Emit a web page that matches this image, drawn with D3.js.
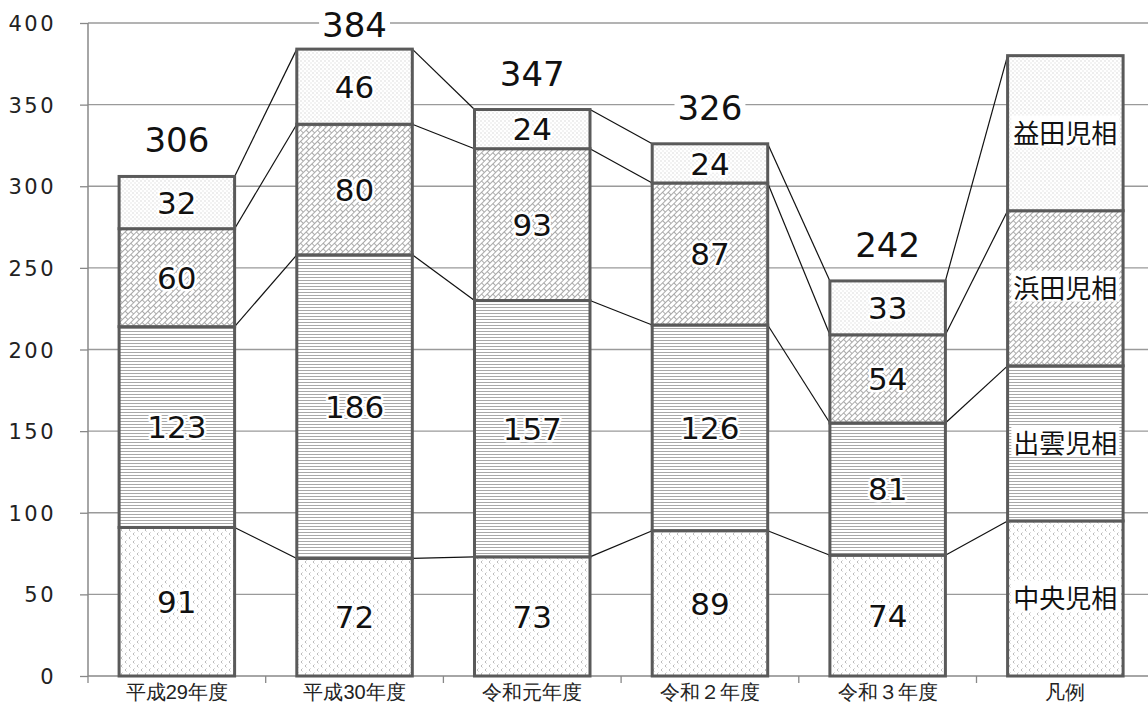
<!DOCTYPE html>
<html><head><meta charset="utf-8">
<script src="https://cdn.jsdelivr.net/npm/d3@7"></script>
<style>
body{margin:0;background:#fff;}
svg{display:block;font-family:"Noto Sans CJK JP","Noto Sans",sans-serif;}
</style></head>
<body><svg id="c" width="1148" height="715"></svg>
<script>
const categories = ['平成29年度','平成30年度','令和元年度','令和２年度','令和３年度','凡例'];
const seriesNames = ['中央児相','出雲児相','浜田児相','益田児相'];
const chuo   = [91, 72, 73, 89, 74, 95];
const izumo  = [123, 186, 157, 126, 81, 95];
const hamada = [60, 80, 93, 87, 54, 95];
const masuda = [32, 46, 24, 24, 33, 95];
const yTicks = [0,50,100,150,200,250,300,350,400];

(function(){
const NUMFONT = '"DejaVu Sans","Noto Sans",sans-serif';
const svg = d3.select('#c');
const defs = svg.append('defs');
const p0 = defs.append('pattern').attr('id','pat0').attr('patternUnits','userSpaceOnUse').attr('width',8).attr('height',8);
p0.append('rect').attr('width',8).attr('height',8).attr('fill','#fff');
p0.append('path').attr('d','M2.5,0.5 l-1.5,1.5 l1.5,1.5 M6.5,4.5 l-1.5,1.5 l1.5,1.5').attr('stroke','#b4b4b4').attr('stroke-width',0.9).attr('fill','none');
const p1 = defs.append('pattern').attr('id','pat1').attr('patternUnits','userSpaceOnUse').attr('width',8).attr('height',6);
p1.append('rect').attr('width',8).attr('height',6).attr('fill','#fff');
p1.append('path').attr('d','M0,1.5 H8 M0,4.5 H8').attr('stroke','#a8a8a8').attr('stroke-width',1);
const p2 = defs.append('pattern').attr('id','pat2').attr('patternUnits','userSpaceOnUse').attr('width',8).attr('height',8).attr('patternTransform','rotate(-45)');
p2.append('rect').attr('width',8).attr('height',8).attr('fill','#fff');
p2.append('path').attr('d','M0,0.5 H8 M0,4.5 H8 M0.5,0.5 V4.5 M4.5,4.5 V8.5').attr('stroke','#a0a0a0').attr('stroke-width',0.9).attr('fill','none');
const p3 = defs.append('pattern').attr('id','pat3').attr('patternUnits','userSpaceOnUse').attr('width',4).attr('height',4);
p3.append('rect').attr('width',4).attr('height',4).attr('fill','#fff');
p3.append('rect').attr('x',0.5).attr('y',0.5).attr('width',1).attr('height',1).attr('fill','#bcbcbc');
p3.append('rect').attr('x',2.5).attr('y',2.5).attr('width',1).attr('height',1).attr('fill','#d0d0d0');

const mLeft = 88, mBottom = 676, mTop = 23;
const band = 177.7;
const x = d3.scaleBand().domain(categories).range([mLeft, mLeft + band*categories.length]).paddingInner(0.35).paddingOuter(0.175);
const y = d3.scaleLinear().domain([0,400]).range([mBottom, mTop]);

svg.append('g').selectAll('line').data(yTicks.filter(d=>d>0)).join('line')
  .attr('x1',mLeft).attr('x2',1148).attr('y1',d=>y(d)).attr('y2',d=>y(d))
  .attr('stroke','#9a9a9a').attr('stroke-width',1.3);

const ya = svg.append('g').attr('transform',`translate(${mLeft},0)`).call(d3.axisLeft(y).tickValues(yTicks).tickSize(8).tickPadding(24));
ya.select('.domain').attr('stroke','#888').attr('stroke-width',1.5).attr('d',`M0,${mBottom}V${mTop}`);
ya.selectAll('.tick line').attr('stroke','#888').attr('stroke-width',1.3);
ya.selectAll('text').attr('font-size',21).attr('fill','#222').attr('font-family',NUMFONT)
  .attr('letter-spacing',2.5).attr('dy','0.36em');

const xa = svg.append('g').attr('transform',`translate(0,${mBottom})`).call(d3.axisBottom(x).tickSize(0).tickPadding(9));
xa.select('.domain').attr('stroke','#888').attr('stroke-width',1.5).attr('d',`M${mLeft},0H1148`);
xa.selectAll('text').attr('font-size',20).attr('fill','#222');
svg.append('g').selectAll('line').data(d3.range(categories.length+1)).join('line')
  .attr('x1',i=>mLeft+band*i).attr('x2',i=>mLeft+band*i).attr('y1',mBottom).attr('y2',mBottom+7)
  .attr('stroke','#888').attr('stroke-width',1.3);

const series = [chuo, izumo, hamada, masuda];
const rows = categories.map((c,i)=>{const o={cat:c}; seriesNames.forEach((s,k)=>o[s]=series[k][i]); return o;});
const stack = d3.stack().keys(seriesNames)(rows);

const conn = svg.append('g');
stack.forEach(layer=>{
  for(let i=0;i<categories.length-1;i++){
    conn.append('line')
      .attr('x1',x(categories[i])+x.bandwidth()).attr('y1',y(layer[i][1]))
      .attr('x2',x(categories[i+1])).attr('y2',y(layer[i+1][1]))
      .attr('stroke','#111').attr('stroke-width',1.2);
  }
});

stack.forEach((layer,k)=>{
  svg.append('g').selectAll('rect').data(layer).join('rect')
    .attr('x',(d,i)=>x(categories[i])).attr('width',x.bandwidth())
    .attr('y',d=>y(d[1])).attr('height',d=>y(d[0])-y(d[1]))
    .attr('fill',`url(#pat${k})`).attr('stroke','#5a5a5a').attr('stroke-width',3);
});

stack.forEach((layer,k)=>{
  layer.forEach((d,i)=>{
    const cx = x(categories[i])+x.bandwidth()/2, cy = y((d[0]+d[1])/2);
    if(i===categories.length-1){
      const t = svg.append('text').attr('x',cx).attr('y',cy).attr('text-anchor','middle').attr('dy','0.36em')
        .attr('font-size',26).attr('fill','#111').text(seriesNames[k]);
      const bb = t.node().getBBox();
      svg.insert('rect', () => t.node()).attr('x',bb.x-2).attr('y',bb.y+3).attr('width',bb.width+4).attr('height',bb.height-6).attr('fill','#fff');
    } else {
      svg.append('text').attr('x',cx).attr('y',cy).attr('text-anchor','middle').attr('dy','0.36em')
        .attr('font-size',31).attr('fill','#111').attr('stroke','#fff').attr('stroke-width',5).attr('paint-order','stroke')
        .attr('stroke-linejoin','round').attr('font-family',NUMFONT)
        .text(d[1]-d[0]);
    }
  });
});

const last = stack[stack.length-1];
categories.slice(0,5).forEach((c,i)=>{
  const base = Math.max(y(last[i][1]) - 24, 37);
  const t = svg.append('text').attr('x',x(c)+x.bandwidth()/2).attr('y',base)
    .attr('text-anchor','middle').attr('font-size',34).attr('fill','#111')
    .attr('font-family',NUMFONT).text(last[i][1]);
  const bb = t.node().getBBox();
  svg.insert('rect', () => t.node()).attr('x',bb.x-3).attr('y',bb.y+4).attr('width',bb.width+6).attr('height',bb.height-8).attr('fill','#fff');
});
})();
</script></body></html>
